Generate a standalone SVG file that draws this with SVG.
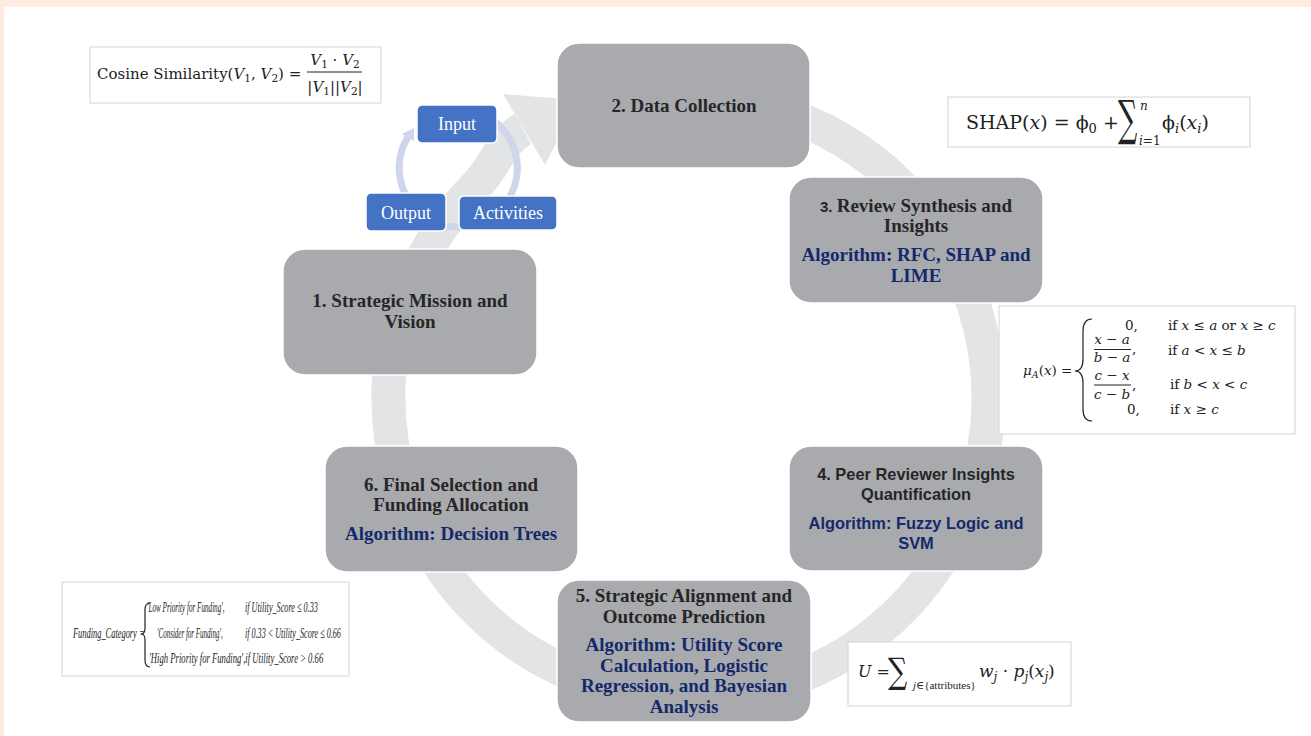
<svg xmlns="http://www.w3.org/2000/svg" width="1311" height="736" viewBox="0 0 1311 736">
<defs>
<style>
.node rect{fill:#a9aaae;stroke:#ffffff;stroke-width:1.5}
.t{font-family:"Liberation Serif","DejaVu Serif",serif;font-weight:bold;font-size:19px;fill:#262626;text-anchor:middle}
.a{font-family:"Liberation Serif","DejaVu Serif",serif;font-weight:bold;font-size:19px;fill:#14296b;text-anchor:middle}
.ts{font-family:"Liberation Sans","Noto Sans",sans-serif;font-weight:bold;font-size:16.4px;fill:#262626;text-anchor:middle}
.as{font-family:"Liberation Sans","Noto Sans",sans-serif;font-weight:bold;font-size:16.4px;fill:#14296b;text-anchor:middle}
.io rect{fill:#4472c4;stroke:#ffffff;stroke-width:1.5}
.io text{font-family:"Liberation Serif","DejaVu Serif",serif;font-size:18px;fill:#ffffff;text-anchor:middle}
.fbox{fill:#ffffff;stroke:#d4d4d4;stroke-width:1}
.m{font-family:"DejaVu Serif","Liberation Serif",serif;fill:#222222}
.l{font-family:"Liberation Serif","DejaVu Serif",serif;fill:#222222}
.f{font-family:"Liberation Serif","DejaVu Serif",serif;font-style:italic;font-size:15px;fill:#222222}
.i{font-style:italic}
.br{fill:none;stroke:#222222;stroke-width:1.2}
</style>
</defs>
<rect x="0" y="0" width="1311" height="736" fill="#ffffff"/>
<rect x="0" y="0" width="1311" height="7" fill="#fdecdf"/>
<rect x="0" y="0" width="4" height="736" fill="#fdecdf"/>

<g id="connectors">
<path d="M662,99 A300,300 0 1 1 476,186 C494,168 501,141 523,129" fill="none" stroke="#e3e4e6" stroke-width="34"/>
<polygon points="503,94 545,165 578,100" fill="#e3e4e6"/>
<path d="M488,117 A59,59 0 1 1 408,137" fill="none" stroke="#cfd6ec" stroke-width="7"/>
<polygon points="414,128 402,134 414,141" fill="#cfd6ec"/>
</g>

<g id="formula-cosine">
<rect class="fbox" x="90" y="47" width="291" height="56"/>
<text class="m" x="97" y="79" font-size="15">Cosine Similarity(<tspan class="i">V</tspan><tspan font-size="10.5" dy="3">1</tspan><tspan dy="-3">, </tspan><tspan class="i">V</tspan><tspan font-size="10.5" dy="3">2</tspan><tspan dy="-3">) =</tspan></text>
<text class="m" x="335" y="65" font-size="15" text-anchor="middle"><tspan class="i">V</tspan><tspan font-size="10.5" dy="3">1</tspan><tspan dy="-3"> · </tspan><tspan class="i">V</tspan><tspan font-size="10.5" dy="3">2</tspan></text>
<line x1="307" y1="72" x2="362" y2="72" stroke="#222" stroke-width="1"/>
<text class="m" x="335" y="92" font-size="15" text-anchor="middle">|<tspan class="i">V</tspan><tspan font-size="10.5" dy="3">1</tspan><tspan dy="-3">||</tspan><tspan class="i">V</tspan><tspan font-size="10.5" dy="3">2</tspan><tspan dy="-3">|</tspan></text>
</g>

<g id="formula-shap">
<rect class="fbox" x="948" y="97" width="302" height="50"/>
<text class="m" x="966" y="129" font-size="19">SHAP(<tspan class="i">x</tspan>) = ϕ<tspan font-size="13" dy="4">0</tspan><tspan dy="-4"> +</tspan></text>
<text class="m" transform="translate(1118,135) scale(1,1.8)" font-size="27">∑</text>
<text class="m i" x="1140" y="110" font-size="12">n</text>
<text class="m" x="1139" y="145" font-size="12"><tspan class="i">i</tspan>=1</text>
<text class="m" x="1162" y="129" font-size="19">ϕ<tspan class="i" font-size="13" dy="4">i</tspan><tspan dy="-4">(</tspan><tspan class="i">x</tspan><tspan class="i" font-size="13" dy="4">i</tspan><tspan dy="-4">)</tspan></text>
</g>

<g id="formula-fuzzy">
<rect class="fbox" x="999" y="306" width="296" height="128"/>
<text class="m" x="1023" y="375" font-size="13.5"><tspan class="i">μ</tspan><tspan class="i" font-size="9.5" dy="3">A</tspan><tspan dy="-3">(</tspan><tspan class="i">x</tspan>) =</text>
<path class="br" d="M1092,319 Q1083,319 1083,331 L1083,359 Q1083,371 1075,371 Q1083,371 1083,383 L1083,409 Q1083,421 1092,421"/>
<text class="m" x="1125" y="330" font-size="13.5">0,</text>
<text class="m" x="1168" y="330" font-size="13.5">if <tspan class="i">x</tspan> ≤ <tspan class="i">a</tspan> or <tspan class="i">x</tspan> ≥ <tspan class="i">c</tspan></text>
<text class="m i" x="1112" y="344" font-size="13.5" text-anchor="middle">x − a</text>
<line x1="1094" y1="349.5" x2="1131" y2="349.5" stroke="#222" stroke-width="1"/>
<text class="m" x="1112" y="362" font-size="13.5" text-anchor="middle"><tspan class="i">b</tspan> − <tspan class="i">a</tspan></text>
<text class="m" x="1132" y="353" font-size="13.5">,</text>
<text class="m" x="1168" y="355" font-size="13.5">if <tspan class="i">a</tspan> &lt; <tspan class="i">x</tspan> ≤ <tspan class="i">b</tspan></text>
<text class="m i" x="1112" y="380" font-size="13.5" text-anchor="middle">c − x</text>
<line x1="1094" y1="385" x2="1131" y2="385" stroke="#222" stroke-width="1"/>
<text class="m" x="1112" y="399" font-size="13.5" text-anchor="middle"><tspan class="i">c</tspan> − <tspan class="i">b</tspan></text>
<text class="m" x="1132" y="389" font-size="13.5">,</text>
<text class="m" x="1170" y="389" font-size="13.5">if <tspan class="i">b</tspan> &lt; <tspan class="i">x</tspan> &lt; <tspan class="i">c</tspan></text>
<text class="m" x="1127" y="414" font-size="13.5">0,</text>
<text class="m" x="1170" y="414" font-size="13.5">if <tspan class="i">x</tspan> ≥ <tspan class="i">c</tspan></text>
</g>

<g id="formula-funding">
<rect class="fbox" x="62" y="582" width="287" height="94"/>
<text class="f" transform="translate(73,638) scale(0.56,1)">Funding_Category =</text>
<path class="br" d="M150,603 Q145,603 145,610 L145,628 Q145,634 141,634 Q145,634 145,640 L145,660 Q145,667 150,667" stroke-width="1"/>
<text class="f" transform="translate(147,612) scale(0.476,1)">'Low Priority for Funding',</text>
<text class="f" transform="translate(245,612) scale(0.546,1)">if Utility_Score ≤ 0.33</text>
<text class="f" transform="translate(157,638) scale(0.467,1)">'Consider for Funding',</text>
<text class="f" transform="translate(245,638) scale(0.541,1)">if 0.33 &lt; Utility_Score ≤ 0.66</text>
<text class="f" transform="translate(149,663) scale(0.576,1)">'High Priority for Funding',if Utility_Score &gt; 0.66</text>
</g>

<g id="formula-utility">
<rect class="fbox" x="848" y="642" width="223" height="64"/>
<text class="m" x="858" y="677" font-size="16"><tspan class="i">U</tspan> =</text>
<text class="m" transform="translate(888,683) scale(1,1.3)" font-size="27">∑</text>
<text class="l" x="913" y="689" font-size="11"><tspan class="i">j</tspan>∈{attributes}</text>
<text class="m" x="979" y="677" font-size="17"><tspan class="i">w</tspan><tspan class="i" font-size="12" dy="4">j</tspan><tspan dy="-4"> · </tspan><tspan class="i">p</tspan><tspan class="i" font-size="12" dy="4">j</tspan><tspan dy="-4">(</tspan><tspan class="i">x</tspan><tspan class="i" font-size="12" dy="4">j</tspan><tspan dy="-4">)</tspan></text>
</g>

<g id="node-2" class="node">
<rect x="557" y="43" width="253" height="125" rx="22"/>
<text class="t" x="684" y="112">2. Data Collection</text>
</g>
<g id="node-3" class="node">
<rect x="789" y="177" width="254" height="126" rx="22"/>
<text class="t" x="916" y="212"><tspan font-family="Liberation Sans, sans-serif" font-size="15">3. </tspan>Review Synthesis and</text>
<text class="t" x="916" y="232">Insights</text>
<text class="a" x="916" y="261">Algorithm: RFC, SHAP and</text>
<text class="a" x="916" y="282">LIME</text>
</g>
<g id="node-1" class="node">
<rect x="283" y="249" width="254" height="126" rx="22"/>
<text class="t" x="410" y="307">1. Strategic Mission and</text>
<text class="t" x="410" y="328">Vision</text>
</g>
<g id="node-4" class="node">
<rect x="789" y="446" width="254" height="125" rx="22"/>
<text class="ts" x="916" y="480">4. Peer Reviewer Insights</text>
<text class="ts" x="916" y="500">Quantification</text>
<text class="as" x="916" y="529">Algorithm: Fuzzy Logic and</text>
<text class="as" x="916" y="549">SVM</text>
</g>
<g id="node-6" class="node">
<rect x="325" y="446" width="253" height="126" rx="22"/>
<text class="t" x="451" y="491">6. Final Selection and</text>
<text class="t" x="451" y="511">Funding Allocation</text>
<text class="a" x="451" y="540">Algorithm: Decision Trees</text>
</g>
<g id="node-5" class="node">
<rect x="557" y="580" width="254" height="142" rx="22"/>
<text class="t" x="684" y="602">5. Strategic Alignment and</text>
<text class="t" x="684" y="623">Outcome Prediction</text>
<text class="a" x="684" y="651">Algorithm: Utility Score</text>
<text class="a" x="684" y="672">Calculation, Logistic</text>
<text class="a" x="684" y="692">Regression, and Bayesian</text>
<text class="a" x="684" y="713">Analysis</text>
</g>

<g id="input" class="io">
<rect x="417" y="105" width="80" height="38" rx="5"/>
<text x="457" y="130">Input</text>
</g>
<g id="output" class="io">
<rect x="366" y="193" width="80" height="38" rx="5"/>
<text x="406" y="219">Output</text>
</g>
<g id="activities" class="io">
<rect x="459" y="196" width="98" height="34" rx="5"/>
<text x="508" y="219">Activities</text>
</g>
</svg>
